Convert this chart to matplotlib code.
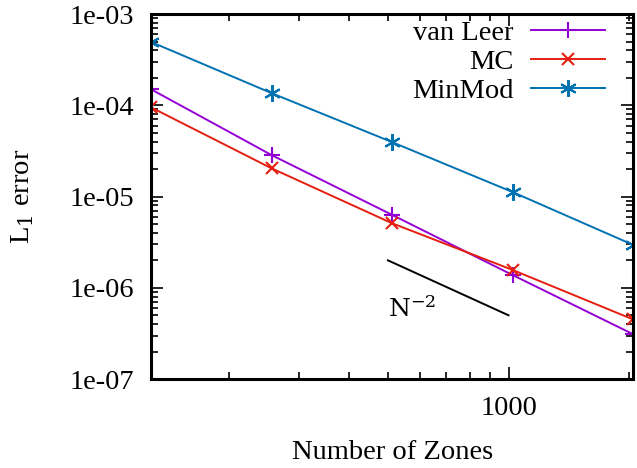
import numpy as np
import matplotlib
matplotlib.use('Agg')
import matplotlib.pyplot as plt
from matplotlib.ticker import LogLocator, NullFormatter, FixedLocator, FixedFormatter

plt.rcParams['font.family'] = ['Liberation Serif', 'DejaVu Serif']
plt.rcParams['mathtext.fontset'] = 'dejavuserif'

zones = [128, 256, 512, 1024, 2048]
err_vanleer = [1.5e-4, 2.85e-5, 6.3e-6, 1.38e-6, 3.1e-7]
err_mc = [9.5e-5, 2.04e-5, 5.1e-6, 1.57e-6, 4.5e-7]
err_minmod = [4.95e-4, 1.36e-4, 3.95e-5, 1.12e-5, 2.95e-6]

ref_x = [500, 1000]
ref_y = [2e-6, 5e-7]

fs = 20.5

fig = plt.figure(figsize=(6.37, 4.68), dpi=100)
ax = fig.add_axes([0.237, 0.190, 0.757, 0.780])

ax.plot(zones, err_vanleer, color='#9400d3', marker='+', markersize=11, mew=1.5, lw=1.4, label='van Leer')
ax.plot(zones, err_mc, color='#e51e10', marker='x', markersize=9, mew=1.5, lw=1.4, label='MC')
ax.plot(zones, err_minmod, color='#0072b2', marker=(6, 2, 0), markersize=12, mew=1.5, lw=1.4, label='MinMod')
ax.plot(ref_x, ref_y, color='black', lw=1.4)
ax.text(500, 5.8e-7, r'$\mathregular{N^{-2}}$', fontsize=18, ha='left', va='center',
        family='DejaVu Serif')

ax.set_xscale('log')
ax.set_yscale('log')
ax.set_xlim(128, 2048)
ax.set_ylim(1e-7, 1e-3)

ax.xaxis.set_major_locator(FixedLocator([1000]))
ax.xaxis.set_major_formatter(FixedFormatter(['1000']))
ax.xaxis.set_minor_locator(LogLocator(base=10, subs=np.arange(2, 10)))
ax.xaxis.set_minor_formatter(NullFormatter())

yt = [1e-7, 1e-6, 1e-5, 1e-4, 1e-3]
ax.yaxis.set_major_locator(FixedLocator(yt))
ax.yaxis.set_major_formatter(FixedFormatter(['1e-07', '1e-06', '1e-05', '1e-04', '1e-03']))
ax.yaxis.set_minor_locator(LogLocator(base=10, subs=np.arange(2, 10)))
ax.yaxis.set_minor_formatter(NullFormatter())

ax.tick_params(which='both', direction='in', top=True, right=True, labelsize=fs)
ax.tick_params(which='major', length=8.5, width=1.2, pad=12)
ax.tick_params(which='minor', length=5, width=1.2)
for s in ax.spines.values():
    s.set_linewidth(2.2)

ax.set_xlabel('Number of Zones', fontsize=fs, labelpad=14)
ax.set_ylabel(r'L$_1$ error', fontsize=fs, labelpad=24)

ax.legend(loc='upper right', frameon=False, markerfirst=False, fontsize=fs,
          handlelength=2.6, handletextpad=0.6, labelspacing=0.11,
          borderaxespad=0.0, bbox_to_anchor=(0.965, 1.014))

fig.savefig('out.png', dpi=100)
